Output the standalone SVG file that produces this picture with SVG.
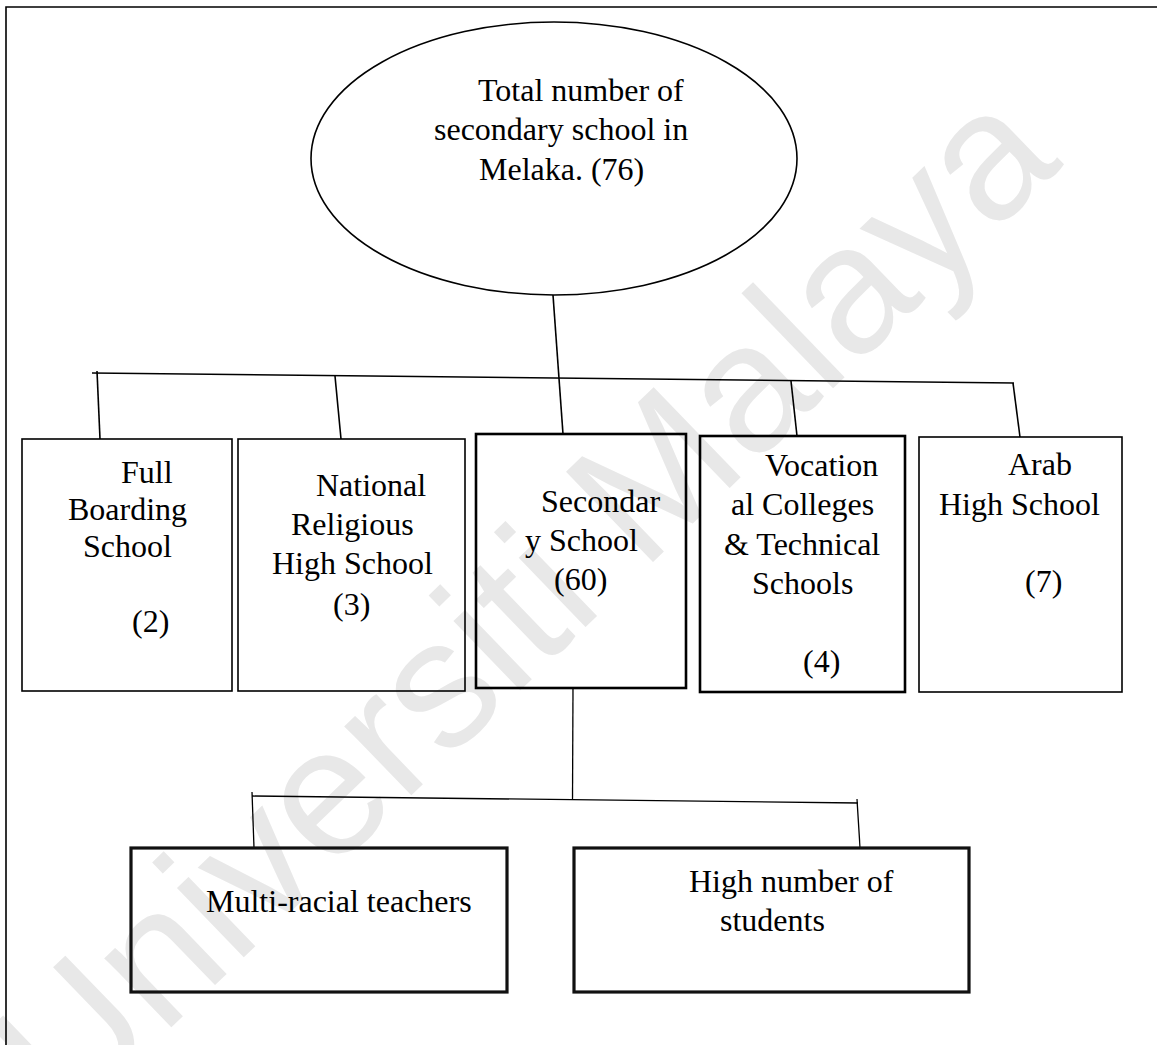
<svg xmlns="http://www.w3.org/2000/svg" width="1157" height="1045" viewBox="0 0 1157 1045">
  <style>
    .lbl { font-family: "Liberation Serif", "Times New Roman", serif; font-size: 32px; fill: #000; }
    .box { fill: none; stroke: #000; stroke-width: 1.6; }
    .box-bold { fill: none; stroke: #000; stroke-width: 2.6; }
    .box-heavy { fill: none; stroke: #111; stroke-width: 3.2; }
    .wire { fill: none; stroke: #000; stroke-width: 1.6; }
    .wire-thin { fill: none; stroke: #000; stroke-width: 1.3; }
    .mark { font-family: "Liberation Sans", Arial, sans-serif; font-size: 182px; fill: #e8e8e8; }
  </style>

  <rect x="0" y="0" width="1157" height="1045" fill="#fff"/>

  <!-- faint background watermark -->
  <text class="mark" x="566" y="646" text-anchor="middle" transform="rotate(-44 566 646)">Universiti Malaya</text>

  <!-- page frame -->
  <path class="wire" d="M6 1045 V7 H1157"/>

  <g id="connectors">
    <path class="wire" d="M553 295 L563 434"/>
    <path class="wire" d="M92 373 L1014 383"/>
    <path class="wire" d="M97 371 L100 439"/>
    <path class="wire" d="M335 376 L341 439"/>
    <path class="wire" d="M791 381 L797 436"/>
    <path class="wire" d="M1013 383 L1020 437"/>
    <path class="wire-thin" d="M573 688 L572.5 800"/>
    <path class="wire-thin" d="M252 796 L858 803"/>
    <path class="wire-thin" d="M252 792 L254 848"/>
    <path class="wire-thin" d="M857 799 L860 848"/>
  </g>

  <g id="total">
    <ellipse cx="554" cy="158.5" rx="243" ry="136.5" fill="none" stroke="#000" stroke-width="1.6"/>
    <text class="lbl" x="478" y="101">Total number of</text>
    <text class="lbl" x="434" y="140">secondary school in</text>
    <text class="lbl" x="479" y="180">Melaka. (76)</text>
  </g>

  <g id="full-boarding">
    <rect class="box" x="22" y="439" width="210" height="252"/>
    <text class="lbl" x="121" y="483">Full</text>
    <text class="lbl" x="68" y="520">Boarding</text>
    <text class="lbl" x="83" y="557">School</text>
    <text class="lbl" x="132" y="632">(2)</text>
  </g>

  <g id="national-religious">
    <rect class="box" x="238" y="439" width="227" height="252"/>
    <text class="lbl" x="316" y="496">National</text>
    <text class="lbl" x="291" y="535">Religious</text>
    <text class="lbl" x="272" y="574">High School</text>
    <text class="lbl" x="333" y="615">(3)</text>
  </g>

  <g id="secondary">
    <rect class="box-bold" x="476" y="434" width="210" height="254"/>
    <text class="lbl" x="541" y="512">Secondar</text>
    <text class="lbl" x="525" y="551">y School</text>
    <text class="lbl" x="554" y="590">(60)</text>
  </g>

  <g id="vocational">
    <rect class="box-bold" x="700" y="436" width="205" height="256"/>
    <text class="lbl" x="765" y="476">Vocation</text>
    <text class="lbl" x="731" y="515">al Colleges</text>
    <text class="lbl" x="724" y="555">&amp; Technical</text>
    <text class="lbl" x="752" y="594">Schools</text>
    <text class="lbl" x="803" y="672">(4)</text>
  </g>

  <g id="arab">
    <rect class="box" x="919" y="437" width="203" height="255"/>
    <text class="lbl" x="1008" y="475">Arab</text>
    <text class="lbl" x="939" y="515">High School</text>
    <text class="lbl" x="1025" y="592">(7)</text>
  </g>

  <g id="multi-racial">
    <rect class="box-heavy" x="131" y="848" width="376" height="144"/>
    <text class="lbl" x="206" y="912">Multi-racial teachers</text>
  </g>

  <g id="students">
    <rect class="box-heavy" x="574" y="848" width="395" height="144"/>
    <text class="lbl" x="689" y="892">High number of</text>
    <text class="lbl" x="720" y="931">students</text>
  </g>
</svg>
